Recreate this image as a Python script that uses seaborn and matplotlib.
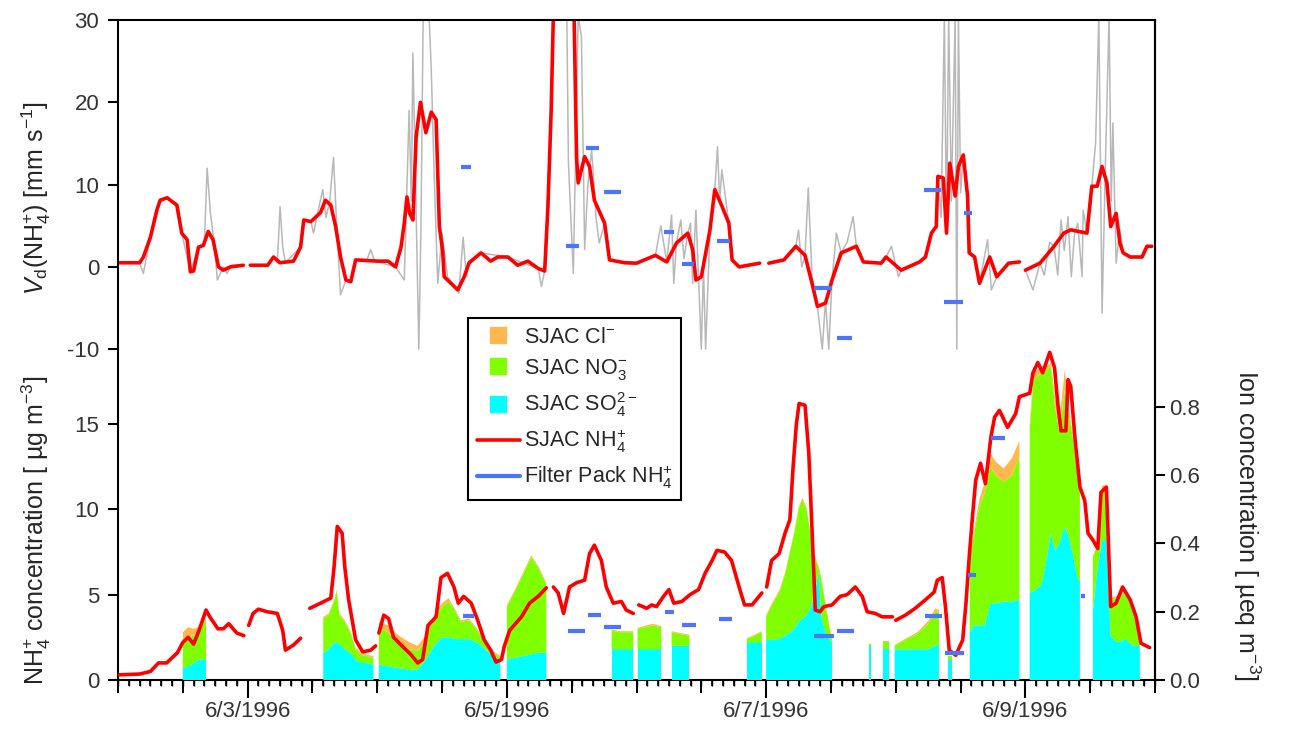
import numpy as np
import pandas as pd
import matplotlib
matplotlib.use("Agg")
import matplotlib.pyplot as plt
from matplotlib.lines import Line2D
from matplotlib.ticker import MultipleLocator, FormatStrFormatter
import seaborn as sns

# --- data (hours after 6/2/1996 00:00) ---
nan = np.nan

# top panel: deposition velocity Vd(NH4+) [mm/s], smoothed (red)
vd_hours = [0, 4, 4.7, 6, 7.2, 7.8, 9.1, 10.9, 11.8, 12.8, 13.4, 14, 14.9, 15.8, 16.7, 17.6, 18.6, 19.5, 20.8, 23.2,
            23.8, 24.5, 27.7, 28.8, 30, 32.5, 33.8, 34.4, 35.7, 37.5, 38.4, 39.4, 40.3, 41.2, 42.2, 43.1, 44, 48, 50, 51.4,
            52.4, 53, 53.5, 54, 54.6, 55.2, 56, 57, 58, 58.9, 59.5, 60.1, 60.4, 62.9, 64.1, 65, 67.2, 69, 70.3, 72.2,
            74, 75.9, 77.8, 79, 79.6, 80.2, 80.8, 84.3, 84.9, 85.2, 86.4, 87.3, 88.2, 90.1, 91, 93.8, 96, 99.5, 101.6, 103.4,
            105.5, 106.4, 107, 108, 109.6, 110.5, 111.8, 113.1, 113.7, 115, 118.8, 119.4, 120.5, 123.3, 125.5, 127.2, 128.5, 129.5, 131, 132.2,
            133.9, 136.7, 138, 141.3, 142.2, 145, 148.4, 149.5, 150.6, 151.5, 151.8, 152.8, 153.4, 154, 155, 155.6, 156.5, 157.3, 157.6, 158.6,
            159.5, 161.4, 162.7, 164.9, 166.9, 167.5, 168, 170.7, 173.3, 175.1, 176.4, 179.4, 180.3, 181.3, 182.2, 183.1, 183.8, 184.8, 185.5, 186.1,
            187.4, 189.6, 190.5, 191.4]
vd_smooth = [0.5, 0.5, 1.2, 3.6, 6.9, 8.1, 8.4, 7.5, 4.1, 3.3, -0.6, -0.5, 2.4, 2.6, 4.3, 3.3, 0.0, -0.4, 0.0, 0.2,
             nan, 0.2, 0.2, 1.2, 0.5, 0.7, 2.4, 5.7, 5.5, 6.6, 8.1, 7.5, 4.9, 1.2, -1.6, -1.8, 0.85, 0.7, 0.7, 0.0,
             2.4, 5.3, 8.5, 6.5, 5.7, 15.8, 20.0, 16.3, 18.8, 17.9, 4.9, 2.0, -1.2, -2.8, -1.2, 0.5, 1.7, 0.7, 1.2, 1.2,
             0.2, 0.7, -0.2, -0.5, 7.3, 19.0, 36.0, 36.0, 13.4, 10.2, 13.4, 12.2, 8.1, 5.3, 0.85, 0.5, 0.45, 1.4, 0.6, 2.9,
             4.1, 2.1, -1.6, -1.2, 4.5, 9.4, 7.4, 5.3, 0.85, 0.0, 0.45, nan, 0.45, 0.85, 2.5, 1.4, -2.0, -4.8, -4.4, -1.6,
             1.7, 2.5, 0.6, 0.45, 1.2, -0.4, 0.6, 1.2, 4.1, 4.9, 11.0, 10.8, 4.1, 12.6, 8.6, 12.2, 13.6, 8.6, 1.7, 1.2,
             -2.0, 1.2, -1.2, 0.45, 0.6, nan, -0.4, 0.45, 2.5, 4.1, 4.5, 4.1, 9.8, 9.8, 12.2, 10.2, 4.9, 6.5, 2.9, 1.7,
             1.2, 1.2, 2.5, 2.5]

# top panel: raw Vd (grey)
raw_hours = [0, 4, 4.7, 5.5, 6.9, 7.8, 9.1, 10.9, 11.8, 13.4, 14.9, 16, 16.5, 17.1, 17.8, 18.4, 19.5, 20.2, 21, 23.2,
             23.8, 24.5, 27.7, 28.8, 29.5, 30, 30.5, 31, 33.8, 34.4, 35.7, 36.2, 37, 37.9, 38.5, 39.2, 39.9, 40.5, 41.2, 42.2,
             43.1, 44, 46, 46.8, 47.5, 51.4, 53, 53.9, 54.3, 54.6, 55.1, 55.7, 56.1, 56.5, 57.6, 58, 58.5, 59.2, 60, 61,
             62.9, 63.1, 63.9, 64.5, 65, 67.2, 72.2, 77.8, 78.4, 79, 80.2, 80.8, 83, 83.4, 84.3, 85.2, 85.8, 86.4, 87, 87.7,
             88.5, 89.1, 90.1, 91, 96, 99.5, 100.5, 101.6, 102.5, 102.9, 103.4, 104.2, 104.8, 105.5, 106, 106.4, 107, 107.5, 108, 108.4,
             108.8, 109.6, 110.5, 111, 111.4, 111.8, 113.1, 113.7, 115, 118.8, 119.4, 120.5, 123.3, 125.5, 126, 126.6, 127.2, 127.8, 128.5, 129.5,
             130.4, 131, 131.6, 132.2, 133, 133.9, 135, 136.1, 136.7, 138, 141.3, 142.2, 143.2, 144.5, 145, 148.4, 149.5, 150.6, 151.5, 151.8,
             152.4, 153, 153.4, 153.8, 154.3, 155, 155.3, 155.6, 156, 156.5, 157.3, 157.6, 158.6, 159.5, 161, 161.7, 162.7, 164.9, 166.9, 167.5,
             168, 169.4, 170.7, 171.5, 172.5, 173.3, 174, 174.6, 175.2, 175.9, 176.5, 177.1, 177.7, 178.5, 178.7, 179.4, 180.3, 181, 181.6, 182.2,
             182.8, 183.5, 183.9, 184.2, 184.8, 185.5, 186.1, 187.4, 189.6, 190.5, 191.4]
vd_raw = [0.5, 0.5, -0.8, 2.0, 6.6, 8.1, 8.4, 7.5, 4.1, -0.6, 2.4, 3.0, 12.0, 6.6, 3.0, -1.6, 0.0, -0.8, 0.2, 0.2,
          nan, 0.2, 0.2, 1.2, 0.5, 7.3, 2.4, 0.5, 2.4, 5.7, 5.5, 4.1, 6.6, 9.4, 6.0, 8.0, 13.3, 4.9, -3.4, -1.6,
          -1.8, 0.85, 0.7, 2.1, 0.7, 0.0, -1.6, 19.0, 8.0, 26.0, 10.0, -10.0, 5.0, 30.5, 30.5, 24.0, 12.0, -2.0, 4.0, -1.2,
          -2.8, -3.2, 3.6, -1.2, 0.5, 1.7, 1.2, -0.2, -2.4, -0.5, 19.0, 36.0, 36.0, 12.6, -0.8, 30.5, 28.0, 2.1, 10.0, 14.2,
          6.0, 2.9, 5.3, 0.85, 0.45, 1.4, 5.0, 0.6, 6.3, -2.0, 2.9, 5.7, 1.0, 4.1, 5.3, -2.0, 6.9, -1.6, -10.0, 0.0,
          -10.0, 4.5, 9.4, 14.6, 8.0, 11.8, 5.3, 0.85, 0.0, 0.45, nan, 0.45, 0.85, 2.5, 4.5, 0.0, 1.4, 9.6, -1.2, -4.8,
          -10.0, -4.0, -10.0, -1.6, 4.1, 1.7, 3.0, 6.1, 2.5, 0.6, 0.45, 1.2, 2.5, -1.2, -0.4, 0.6, 1.2, 4.1, 4.9, 11.0,
          6.0, 30.5, 4.0, 30.5, 8.0, 30.5, -10.0, 30.5, 9.0, 13.6, 8.6, 1.7, 1.2, -2.0, 3.3, -2.8, -1.2, 0.45, 0.6, nan,
          -0.4, -2.8, 0.45, -1.0, 3.0, 2.5, -1.0, 5.7, 2.0, 6.1, -1.2, 4.0, 5.3, -1.2, 6.9, 4.1, 9.8, 15.0, 30.5, -5.6,
          12.0, 30.5, 8.0, 17.5, 0.45, 4.5, 1.7, 1.2, 1.2, 2.5, 2.5]

# filter pack Vd (blue bars, top panel)
fpv_start = [63.5, 83.0, 86.7, 90.0, 101.0, 104.4, 110.9, 128.9, 133.1, 149.3, 153.0, 156.7]
fpv_end = [65.4, 85.4, 89.1, 93.2, 102.9, 106.6, 113.3, 132.2, 135.9, 152.3, 156.4, 158.2]
fpv_vd = [12.1, 2.5, 14.5, 9.1, 4.2, 0.3, 3.2, -2.6, -8.6, 9.4, -4.3, 6.5]

# bottom panel: SJAC NH4+ concentration [ug/m3]
nh4_hours = [0, 4, 6, 7.5, 9, 10, 11, 12, 13, 14, 15, 16.3, 17, 18.5, 19.5, 20.5, 22, 23.3, 23.8, 24.2,
             25, 26, 27.6, 29.5, 30.5, 31, 32.5, 33.8, 34.5, 35.5, 37.5, 39.4, 40, 40.6, 41.5, 42, 42.7, 44, 45.3, 46.8,
             47.7, 48, 48.3, 49.2, 50.1, 51, 52.4, 54.2, 55.5, 56.4, 57.4, 58.9, 59.8, 61, 62.2, 63, 64, 65.4, 66.6, 67.8,
             69, 70, 71, 71.5, 72.5, 74.7, 76.2, 77.8, 79.3, 80, 80.6, 81.5, 82.5, 83.6, 84.9, 86.4, 87.3, 88.2, 89.5, 90.4,
             91.7, 93.2, 94.1, 95.4, 96, 96.4, 97.9, 98.8, 99.7, 101, 102, 102.9, 104.4, 105.9, 107.5, 108.7, 110, 110.9, 112.3, 113.6,
             115, 116, 117.4, 119.2, 119.6, 120.1, 121, 122.4, 123.5, 124.4, 125, 125.6, 126.1, 127.2, 127.9, 128.5, 129.1, 130, 130.7, 132.2,
             133.7, 135, 136.5, 137.8, 138.7, 140.2, 141.5, 143.4, 143.7, 144, 145.8, 147.6, 149.5, 151.1, 151.7, 152.6, 153.2, 153.9, 155.1, 156.4,
             157, 157.6, 158.2, 158.8, 159.7, 160.6, 161.6, 162.3, 163.2, 164.7, 166.2, 166.9, 168.8, 169.4, 170.3, 171.2, 172.5, 173.4, 174, 174.6,
             175.5, 175.9, 176.4, 177.2, 178.1, 179, 179.6, 180.5, 181.4, 182, 183, 183.8, 184.8, 186, 187.4, 188.5, 189.4, 191]
nh4_conc = [0.3, 0.35, 0.5, 1.0, 1.0, 1.3, 1.6, 2.2, 2.5, 2.1, 2.9, 4.1, 3.7, 3.0, 3.0, 3.3, 2.75, 2.6, nan, 3.2,
            3.9, 4.15, 4.0, 3.9, 2.9, 1.75, 2.05, 2.45, nan, 4.2, 4.5, 4.8, 6.6, 9.0, 8.6, 6.6, 4.7, 2.35, 1.65, 1.75,
            2.0, nan, 2.75, 3.8, 3.6, 2.5, 2.05, 1.5, 1.0, 1.2, 3.2, 3.7, 6.0, 6.25, 5.45, 4.5, 4.9, 4.5, 3.5, 2.35,
            1.75, 1.05, 1.2, 1.95, 2.9, 3.7, 4.5, 4.9, 5.4, nan, 5.45, 5.1, 3.9, 5.45, 5.7, 5.85, 7.4, 7.9, 7.0, 5.45,
            4.5, 4.6, 4.1, 3.9, nan, 4.4, 4.2, 4.4, 4.3, 4.9, 5.3, 4.5, 4.6, 5.0, 5.3, 6.25, 7.0, 7.6, 7.5, 7.0,
            5.45, 4.4, 4.4, 5.1, nan, 5.45, 7.0, 7.4, 8.6, 9.4, 12.5, 15.0, 16.2, 16.1, 13.3, 8.8, 4.1, 4.0, 4.3, 4.4,
            4.9, 5.0, 5.45, 4.9, 4.0, 3.9, 3.7, 3.7, nan, 3.5, 3.8, 4.2, 4.7, 5.15, 5.85, 6.0, 4.3, 1.75, 1.45, 2.35,
            4.5, 7.2, 9.55, 11.7, 12.7, 11.5, 14.2, 15.4, 15.8, 14.8, 15.6, 16.6, 16.8, 18.0, 18.6, 18.0, 19.2, 18.3, 16.2, 14.6,
            14.6, 17.6, 17.2, 14.1, 11.3, 10.5, 8.6, 8.2, 7.7, 11.0, 11.3, 4.3, 4.5, 5.45, 4.7, 3.7, 2.15, 1.9]

# filter pack NH4+ (blue bars, bottom panel)
fpc_start = [63.9, 83.4, 87.1, 90.0, 101.2, 104.4, 111.2, 128.9, 133.1, 149.5, 153.2, 157.3, 161.6, 178.3]
fpc_end = [65.9, 86.4, 89.5, 93.2, 103.0, 107.1, 113.6, 132.6, 136.3, 152.6, 156.7, 158.8, 164.3, 179.0]
fpc_nh4 = [3.75, 2.9, 3.8, 3.1, 4.0, 3.2, 3.6, 2.6, 2.9, 3.75, 1.6, 6.15, 14.2, 4.9]

# SJAC ions [ueq/m3], stacked SO4 / NO3 / Cl  (nan rows = gaps)
ion_hours = [12.0, 13.0, 14.0, 15.0, 16.3, nan,
             38.0, 39.0, 40.0, 40.5, 41.0, 42.0, 43.0, 44.0, 45.0, 46.0, 47.3, nan,
             48.3, 50.0, 52.0, 54.0, 55.5, 57.0, 58.5, 60.0, 61.2, 62.5, 63.5, 65.0, 66.5, 68.0, 69.5, 70.8, nan,
             72.0, 73.5, 75.0, 76.5, 77.8, 79.3, nan,
             91.4, 93.0, 95.4, nan, 96.2, 99.0, 100.6, nan, 102.5, 104.0, 105.8, nan, 116.4, 119.2, nan,
             120.0, 121.0, 122.5, 123.5, 124.5, 125.2, 126.0, 126.7, 127.5, 128.3, 129.0, 129.7, 130.3, 131.2, 132.2, nan,
             139.0, 139.4, nan, 141.6, 142.8, nan,
             143.8, 146.0, 148.0, 150.0, 151.3, 152.0, nan, 153.6, 154.5, nan,
             157.7, 158.5, 159.5, 160.5, 161.5, 162.5, 164.0, 165.5, 166.9, nan,
             168.8, 169.5, 171.0, 172.0, 172.7, 173.5, 174.3, 175.3, 176.0, 176.8, 177.6, 178.1, nan,
             180.5, 181.2, 182.2, 183.0, 183.8, 185.0, 186.5, 188.0, 189.2]
so4 = [.035, .040, .050, .060, .060, nan,
       .080, .090, .110, .110, .105, .090, .080, .060, .050, .050, .045, nan,
       .045, .040, .035, .030, .030, .060, .100, .125, .125, .120, .120, .120, .110, .090, .070, .060, nan,
       .060, .065, .070, .075, .080, .080, nan,
       .090, .090, .090, nan, .090, .090, .090, nan, .100, .100, .100, nan, .110, .110, nan,
       .117, .118, .120, .130, .140, .150, .170, .180, .190, .215, .250, .320, .180, .130, .110, nan,
       .100, .100, nan, .090, .090, nan,
       .090, .090, .090, .090, .100, .100, nan, .060, .060, nan,
       .140, .160, .160, .160, .225, .225, .230, .230, .235, nan,
       .255, .260, .280, .360, .430, .380, .400, .450, .420, .370, .300, .290, nan,
       .200, .310, .410, .410, .130, .110, .120, .100, .100]
no3 = [.085, .085, .080, .085, .115, nan,
       .100, .100, .120, .150, .085, .080, .060, .030, .025, .020, .020, nan,
       .110, .100, .075, .060, .055, .060, .080, .090, .105, .080, .050, .055, .035, .020, .010, .005, nan,
       .155, .195, .240, .285, .250, .200, nan,
       .055, .050, .050, nan, .060, .070, .065, nan, .040, .035, .030, nan, .010, .030, nan,
       .068, .100, .140, .180, .240, .280, .330, .350, .310, .205, .110, .010, .110, .070, .005, nan,
       .005, .005, nan, .020, .020, nan,
       .010, .030, .045, .075, .100, .100, nan, .010, .010, nan,
       .210, .270, .350, .390, .400, .375, .350, .370, .420, nan,
       .475, .620, .620, .550, .490, .420, .330, .400, .360, .340, .300, .280, nan,
       .160, .080, .150, .150, .105, .130, .140, .100, .040]
cl = [.020, .030, .020, .010, .005, nan,
      .005, .005, .005, .005, .005, .005, .005, .005, .005, .005, .005, nan,
      .015, .020, .020, .020, .015, .010, .010, .010, .010, .005, .005, .005, .005, .005, .005, .005, nan,
      .005, .005, .005, .005, .005, .005, nan,
      .003, .003, .003, nan, .003, .005, .003, nan, .003, .003, .003, nan, .002, .003, nan,
      .005, .005, .005, .005, .005, .005, .005, .005, .005, .005, .005, .005, .005, .005, .003, nan,
      0, 0, nan, .003, .003, nan,
      .003, .003, .005, .008, .010, .005, nan, 0, 0, nan,
      .005, .010, .020, .030, .040, .040, .040, .050, .045, nan,
      .020, .020, .020, .010, .010, .030, .030, .060, .020, .010, .005, .005, nan,
      .003, .003, .010, .010, .005, .005, .005, .010, .005]

date_ticks = [24, 72, 120, 168]
date_labels = ["6/3/1996", "6/5/1996", "6/7/1996", "6/9/1996"]

RED = "#ff0000"
GREY = "#b8b8b8"
BLUE = "#4d74ff"
CYAN = "#00ffff"
GREEN = "#80ff00"
ORANGE = "#ffb84d"


def seg_frame(h, v):
    """nan rows split the line into separate segments (units for seaborn)"""
    df = pd.DataFrame({"h": h, "v": v})
    df["seg"] = df["v"].isna().cumsum()
    return df.dropna()


sns.set_theme(style="ticks")
plt.rcParams["font.family"] = ["Liberation Sans", "DejaVu Sans"]
plt.rcParams["mathtext.fontset"] = "custom"
plt.rcParams["mathtext.rm"] = "Liberation Sans"
plt.rcParams["mathtext.it"] = "Liberation Sans:italic"
plt.rcParams["mathtext.default"] = "regular"
plt.rcParams["axes.unicode_minus"] = False
plt.rcParams["axes.edgecolor"] = "black"
plt.rcParams["xtick.color"] = "black"
plt.rcParams["ytick.color"] = "black"

fig = plt.figure(figsize=(12.89, 7.34), dpi=100)
rect = [118 / 1289, 54 / 734, 1037 / 1289, 660 / 734]
ax_v = fig.add_axes(rect)              # Vd (top panel)
ax_c = fig.add_axes(rect, sharex=ax_v)  # NH4+ conc (bottom panel, left axis)
ax_i = ax_c.twinx()                     # ion conc (right axis)
ax_v.set_zorder(0)
ax_i.set_zorder(1)
ax_c.set_zorder(2)
ax_c.patch.set_visible(False)
ax_i.patch.set_visible(False)

# top panel
sns.lineplot(data=seg_frame(raw_hours, vd_raw), x="h", y="v", units="seg", estimator=None, sort=False,
             ax=ax_v, color=GREY, linewidth=1.1, legend=False)
sns.lineplot(data=seg_frame(vd_hours, vd_smooth), x="h", y="v", units="seg", estimator=None, sort=False,
             ax=ax_v, color=RED, linewidth=2.6, legend=False)
ax_v.hlines(fpv_vd, fpv_start, fpv_end, color=BLUE, linewidth=3)

# bottom panel: stacked ions
ih = np.array(ion_hours)
s1 = np.array(so4)
s2 = s1 + np.array(no3)
s3 = s2 + np.array(cl)
ax_i.fill_between(ih, 0, s1, color=CYAN, linewidth=0)
ax_i.fill_between(ih, s1, s2, color=GREEN, linewidth=0)
ax_i.fill_between(ih, s2, s3, color=ORANGE, linewidth=0)

sns.lineplot(data=seg_frame(nh4_hours, nh4_conc), x="h", y="v", units="seg", estimator=None, sort=False,
             ax=ax_c, color=RED, linewidth=2.6, legend=False)
ax_c.hlines(fpc_nh4, fpc_start, fpc_end, color=BLUE, linewidth=3)

# axes limits / ticks
ax_v.set_xlim(0, 192)
ax_v.set_ylim(-50.2, 30)
ax_v.set_yticks([-10, 0, 10, 20, 30])
ax_c.set_ylim(0, 38.67)
ax_c.set_yticks([0, 5, 10, 15])
ax_i.set_ylim(0, 1.934)
ax_i.set_yticks([0, 0.2, 0.4, 0.6, 0.8])
ax_i.yaxis.set_major_formatter(FormatStrFormatter("%.1f"))

for a in (ax_v, ax_c, ax_i):
    a.set_xlabel("")
    a.set_ylabel("")

lab_kw = dict(labelsize=16, labelcolor="#333333")
ax_v.set_xticks(date_ticks, labels=date_labels)
ax_v.xaxis.set_minor_locator(MultipleLocator(2))
ax_v.tick_params(axis="x", which="major", length=13, width=1.5, pad=2, **lab_kw)
ax_v.tick_params(axis="x", which="minor", length=4.5, width=1.2)
ax_v.tick_params(axis="y", length=7.5, width=1.5, pad=6, left=True, right=False, **lab_kw)
mid = ax_v.secondary_xaxis("bottom")
mid.set_xticks(np.arange(0, 193, 12))
mid.tick_params(axis="x", length=9, width=1.4, labelbottom=False)
mid.spines["bottom"].set_visible(False)

ax_c.tick_params(axis="x", bottom=False, labelbottom=False)
ax_c.tick_params(axis="y", length=7.5, width=1.5, pad=6, **lab_kw)
ax_i.tick_params(axis="y", length=7.5, width=1.5, pad=3, **lab_kw)

for s in ax_v.spines.values():
    s.set_linewidth(1.5)
for s in ax_c.spines.values():
    s.set_visible(False)
for name, s in ax_i.spines.items():
    s.set_visible(name == "right")
    s.set_linewidth(1.5)

# axis titles
fig.text(36 / 1289, 1 - 198 / 734, r"$\mathit{V}_d$(NH$_4^{+}$) [mm s$^{-1}$]", rotation=90,
         ha="center", va="center", fontsize=18)
fig.text(36 / 1289, 1 - 530 / 734, r"NH$_4^{+}$ concentration [ µg m$^{-3}$]", rotation=90,
         ha="center", va="center", fontsize=18)
fig.text(1247 / 1289, 1 - 525 / 734, r"Ion concentration [ µeq m$^{-3}$]", rotation=270,
         ha="center", va="center", fontsize=18)

# legend
handles = [
    Line2D([], [], marker="s", linestyle="none", markersize=11, markerfacecolor=ORANGE, markeredgecolor=ORANGE),
    Line2D([], [], marker="s", linestyle="none", markersize=11, markerfacecolor=GREEN, markeredgecolor=GREEN),
    Line2D([], [], marker="s", linestyle="none", markersize=11, markerfacecolor=CYAN, markeredgecolor=CYAN),
    Line2D([], [], color=RED, linewidth=2.6),
    Line2D([], [], color=BLUE, linewidth=3),
]
labels = [r"SJAC Cl$^{-}$", r"SJAC NO$_3^{-}$", r"SJAC SO$_4^{2-}$", r"SJAC NH$_4^{+}$", r"Filter Pack NH$_4^{+}$"]
leg = ax_c.legend(handles, labels, loc="upper left", bbox_to_anchor=(0.3375, 0.548), fontsize=15.5,
                  frameon=True, fancybox=False, edgecolor="black", framealpha=1, handlelength=2.0,
                  handletextpad=0.2, labelspacing=0.4, borderpad=0.4, borderaxespad=0)
leg.get_frame().set_linewidth(1.5)

fig.savefig("out.png", dpi=100)
